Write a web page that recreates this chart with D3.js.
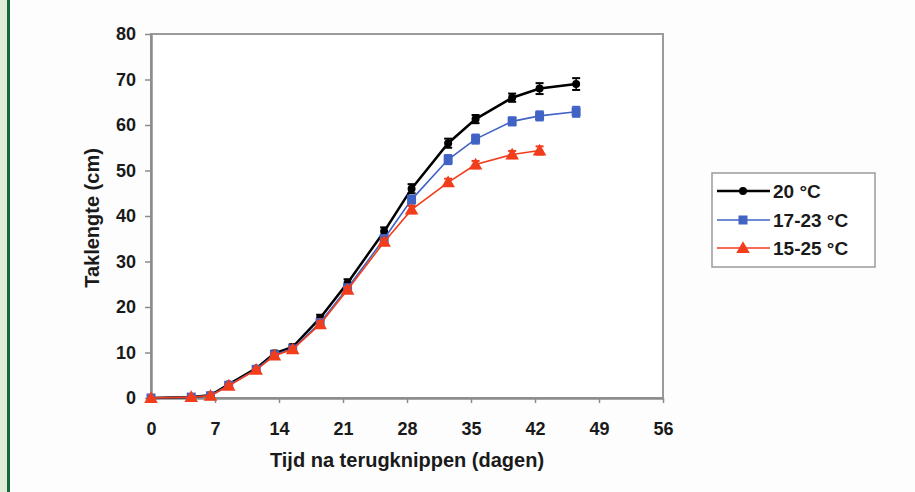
<!DOCTYPE html>
<html><head><meta charset="utf-8">
<script src="https://cdn.jsdelivr.net/npm/d3@7"></script>
<style>
html,body{margin:0;padding:0;background:#fdfdfd;}
svg{display:block;font-family:"Liberation Sans",Arial,sans-serif;}
</style></head><body>
<svg id="c" width="915" height="492"></svg>
<script>
// ---- data ----
const days = [0, 4.4, 6.5, 8.5, 11.5, 13.5, 15.5, 18.5, 21.5, 25.5, 28.5, 32.5, 35.5, 39.5, 42.5, 46.5];
const seriesNames = ["20 °C", "17-23 °C", "15-25 °C"];
const s20 = [0, 0.2, 0.6, 3.0, 6.5, 9.8, 11.2, 17.6, 25.3, 36.6, 46.0, 56.0, 61.3, 66.0, 68.0, 69.0];
const s1723 = [0, 0.2, 0.5, 2.8, 6.3, 9.5, 10.8, 16.6, 24.2, 35.0, 43.6, 52.4, 56.9, 60.8, 62.0, 62.9];
const s1525 = [0, 0.2, 0.5, 2.7, 6.2, 9.3, 10.7, 16.2, 23.8, 34.3, 41.4, 47.4, 51.3, 53.5, 54.4];
const e20 = [0, 0, 0, 0.4, 0.4, 0.6, 0.6, 0.7, 0.8, 0.9, 1.0, 1.0, 0.9, 0.9, 1.2, 1.3];
const e1723 = [0, 0, 0, 0.3, 0.3, 0.5, 0.5, 0.6, 0.7, 0.8, 0.9, 1.0, 1.0, 0.9, 1.0, 1.1];
const e1525 = [0, 0, 0, 0.3, 0.3, 0.5, 0.5, 0.6, 0.6, 0.7, 0.8, 0.8, 0.8, 0.8, 0.9];
const xTicks = [0, 7, 14, 21, 28, 35, 42, 49, 56];
const yTicks = [0, 10, 20, 30, 40, 50, 60, 70, 80];
const xLabel = "Tijd na terugknippen (dagen)";
const yLabel = "Taklengte (cm)";

const colors = ["#000000", "#4163c4", "#f23d1c"];
const svg = d3.select("#c");

// page decoration: green border left
svg.append("rect").attr("x",0).attr("y",0).attr("width",7).attr("height",492).attr("fill","#e2eedb");
svg.append("rect").attr("x",7).attr("y",0).attr("width",3).attr("height",492).attr("fill","#17683a");

const x = d3.scaleLinear().domain([0,56]).range([151,663]);
const y = d3.scaleLinear().domain([0,80]).range([398,34]);

// plot area
svg.append("rect").attr("x",151).attr("y",34).attr("width",512).attr("height",364)
  .attr("fill","#ffffff").attr("stroke","#9a9a9a").attr("stroke-width",2);

const ax = svg.append("g").attr("transform","translate(0,398)")
  .call(d3.axisBottom(x).tickValues(xTicks).tickSizeInner(5).tickSizeOuter(0).tickPadding(19));
const ay = svg.append("g").attr("transform","translate(151,0)")
  .call(d3.axisLeft(y).tickValues(yTicks).tickSizeInner(6).tickSizeOuter(0).tickPadding(9));
[ax,ay].forEach(g=>{
  g.select(".domain").attr("stroke","#8c8c8c").attr("stroke-width",2.5);
  g.selectAll(".tick line").attr("stroke","#8c8c8c").attr("stroke-width",1.5);
  g.selectAll(".tick text").attr("fill","#1a1a1a").attr("font-size",18).attr("font-weight","bold")
   .attr("font-family","'Liberation Sans',Arial,sans-serif");
});

svg.append("text").attr("x",407).attr("y",467).attr("text-anchor","middle")
  .attr("font-size",20).attr("font-weight","bold").attr("fill","#1a1a1a").text(xLabel);
svg.append("text").attr("transform","translate(99,218) rotate(-90)").attr("text-anchor","middle")
  .attr("font-size",20).attr("font-weight","bold").attr("fill","#1a1a1a").text(yLabel);

const allSeries = [s20, s1723, s1525];
const allErr = [e20, e1723, e1525];
const widths = [2.5, 1.6, 1.6];

function marker(g, i, cx, cy){
  if(i===0) g.append("circle").attr("cx",cx).attr("cy",cy).attr("r",4).attr("fill",colors[0]);
  else if(i===1) g.append("rect").attr("x",cx-4.5).attr("y",cy-4.5).attr("width",9).attr("height",9).attr("fill",colors[1]);
  else g.append("path").attr("d",d3.symbol(d3.symbolTriangle,80)()).attr("transform",`translate(${cx},${cy+1})`).attr("fill",colors[2]);
}

const line = d3.line().x(d=>x(d[0])).y(d=>y(d[1]));
[0,1,2].forEach(i=>{
  const vals = allSeries[i], errs = allErr[i];
  const pts = vals.map((v,k)=>[days[k], v, errs[k]]);
  const g = svg.append("g");
  g.append("path").attr("d",line(pts)).attr("fill","none").attr("stroke",colors[i]).attr("stroke-width",widths[i]);
  pts.forEach(p=>{
    if(p[2]>0){
      const y1=y(p[1]+p[2]), y2=y(p[1]-p[2]), cx=x(p[0]);
      g.append("line").attr("x1",cx).attr("x2",cx).attr("y1",y1).attr("y2",y2).attr("stroke",colors[i]).attr("stroke-width",1.5);
      [y1,y2].forEach(yy=>g.append("line").attr("x1",cx-4).attr("x2",cx+4).attr("y1",yy).attr("y2",yy).attr("stroke",colors[i]).attr("stroke-width",2));
    }
    marker(g,i,x(p[0]),y(p[1]));
  });
});

// legend
const lg = svg.append("g");
lg.append("rect").attr("x",712).attr("y",173).attr("width",163).attr("height",94)
  .attr("fill","#ffffff").attr("stroke","#9a9a9a").attr("stroke-width",1.5);
const ly = [191, 220, 248];
seriesNames.forEach((n,i)=>{
  lg.append("line").attr("x1",717).attr("x2",770).attr("y1",ly[i]).attr("y2",ly[i]).attr("stroke",colors[i]).attr("stroke-width",widths[i]);
  marker(lg,i,743,ly[i]);
  lg.append("text").attr("x",773).attr("y",ly[i]+7).attr("font-size",19).attr("font-weight","bold").attr("fill","#1a1a1a").text(n);
});
</script>
</body></html>
